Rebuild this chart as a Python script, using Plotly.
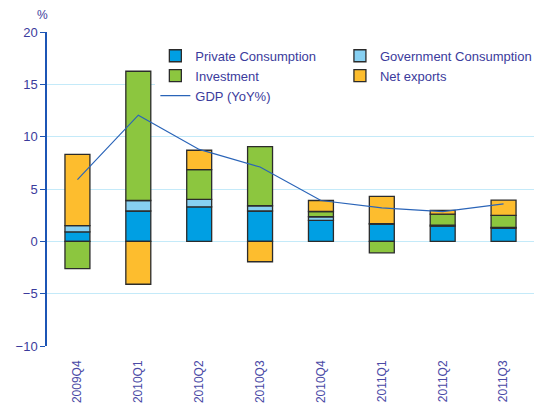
import plotly.graph_objects as go

quarters = ["2009Q4", "2010Q1", "2010Q2", "2010Q3", "2010Q4", "2011Q1", "2011Q2", "2011Q3"]
private_consumption = [0.9, 2.9, 3.3, 2.9, 2.0, 1.65, 1.45, 1.25]
government_consumption = [0.6, 1.0, 0.7, 0.5, 0.35, 0.05, 0.1, 0.08]
investment = [-2.6, 12.35, 2.85, 5.65, 0.5, -1.1, 1.05, 1.15]
net_exports = [6.8, -4.1, 1.85, -1.95, 1.05, 2.6, 0.35, 1.45]
gdp_yoy = [5.9, 12.05, 8.78, 7.1, 3.9, 3.2, 2.84, 3.58]

y_ticks = [-10, -5, 0, 5, 10, 15, 20]

TEXT = "#3b3b9c"
FONT = "Liberation Sans, Arial, sans-serif"
outline = dict(color="#2b2b2b", width=1.3)

fig = go.Figure()
series = [
    ("Private Consumption", private_consumption, "#009fe3", "legend"),
    ("Government Consumption", government_consumption, "#87d0f2", "legend2"),
    ("Investment", investment, "#8cc63f", "legend"),
    ("Net exports", net_exports, "#fdbd2e", "legend2"),
]
for name, vals, col, lg in series:
    fig.add_trace(go.Bar(x=quarters, y=vals, name=name, marker=dict(color=col, line=outline),
                         width=0.41, legend=lg))
fig.add_trace(go.Scatter(x=quarters, y=gdp_yoy, name="GDP (YoY%)", mode="lines",
                         line=dict(color="#2a64b8", width=1.2), legend="legend"))

legend_common = dict(
    orientation="v", y=0.972, xanchor="left", yanchor="top",
    bgcolor="white", font=dict(size=13, color=TEXT, family=FONT),
    traceorder="normal", tracegroupgap=0, itemwidth=30,
)

fig.update_layout(
    width=544, height=403,
    margin=dict(l=39, r=18, t=24, b=65),
    barmode="relative",
    bargap=0.6,
    plot_bgcolor="white", paper_bgcolor="white",
    font=dict(family=FONT, color=TEXT, size=12),
    showlegend=True,
    legend=dict(x=0.2225, **legend_common),
    legend2=dict(x=0.6015, **legend_common),
    xaxis=dict(
        type="category", showgrid=False, showline=False, ticks="",
        tickangle=-90, tickfont=dict(size=12, color="#4a4aa6"), range=[-0.5, 7.5],
        zeroline=False, ticklabelstandoff=11, automargin=False,
    ),
    xaxis2=dict(
        overlaying="x", anchor="free", position=(0 - (-10)) / 30.0, type="linear",
        range=[-0.5, 7.5], tickvals=[i + 0.5 for i in range(len(quarters))],
        showticklabels=False, ticks="outside", ticklen=4, tickcolor="#2a64b8", tickwidth=1,
        showline=True, linecolor="#7196cc", linewidth=2, showgrid=False, zeroline=False,
        side="bottom", automargin=False,
    ),
    yaxis=dict(
        range=[-10, 20], tickvals=y_ticks, showgrid=True, gridcolor="#c4eaf9", gridwidth=1,
        showline=True, linecolor="#1c55b5", linewidth=1.5, ticks="outside", ticklen=5,
        tickcolor="#1c55b5", zeroline=False, tickfont=dict(size=13, color=TEXT),
        automargin=False,
    ),
    shapes=[dict(type="rect", xref="paper", yref="paper", x0=0.24, x1=1.006, y0=0.771, y1=0.962,
                 fillcolor="white", line=dict(width=0), layer="above")],
    annotations=[dict(text="%", xref="paper", yref="paper", x=-0.01, y=1.025, xanchor="center",
                      yanchor="bottom", showarrow=False, font=dict(size=12, color=TEXT))],
)

fig.write_html("out.html")
